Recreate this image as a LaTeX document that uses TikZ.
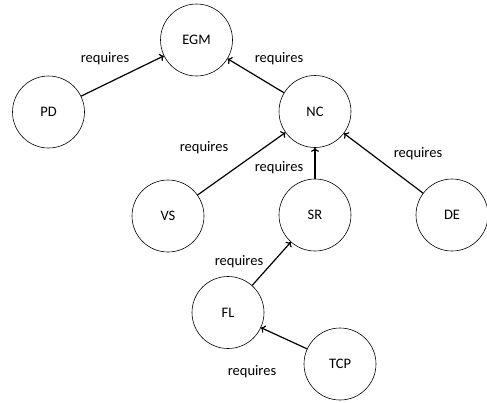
\documentclass[tikz,border=0pt]{standalone}
\usepackage{fontspec}
\setmainfont{Carlito}
\usepackage{tikz}
\usetikzlibrary{arrows.meta}
\tikzstyle{topic} = [draw=black, circle, line width=0.6pt, minimum size=72pt,
inner sep=0pt, font=\fontsize{14.5}{16}\selectfont]
\tikzstyle{req} = [-{To[length=4pt,width=8pt]}, line width=1.2pt]
\tikzstyle{reqlabel} = [font=\fontsize{14.5}{16}\selectfont, inner sep=1pt]

\begin{document}
\begin{tikzpicture}[x=1pt,y=-1pt]
        \useasboundingbox (0,0) rectangle (487,402);
        \node [topic] (egm) at (196.5,40) {EGM};
        \node [topic] (pd) at (48.5,112) {PD};
        \node [topic] (nc) at (315,111.5) {NC};
        \node [topic] (vs) at (168,216) {VS};
        \node [topic] (sr) at (315,215) {SR};
        \node [topic] (de) at (452,215) {DE};
        \node [topic] (fl) at (228,312.5) {FL};
        \node [topic] (tcp) at (340,364) {TCP};
        \draw [req] (pd) -- (egm);
        \draw [req] (nc) -- (egm);
        \draw [req] (vs) -- (nc);
        \draw [req] (sr) -- (nc);
        \draw [req] (de) -- (nc);
        \draw [req] (fl) -- (sr);
        \draw [req] (tcp) -- (fl);
        \node [reqlabel] (l1) at (105,59) {requires};
        \node [reqlabel] (l2) at (279,59) {requires};
        \node [reqlabel] (l3) at (204,148) {requires};
        \node [reqlabel] (l4) at (279,168) {requires};
        \node [reqlabel] (l5) at (418,154) {requires};
        \node [reqlabel] (l6) at (239,262) {requires};
        \node [reqlabel] (l7) at (252,372) {requires};
    \end{tikzpicture}
\end{document}
